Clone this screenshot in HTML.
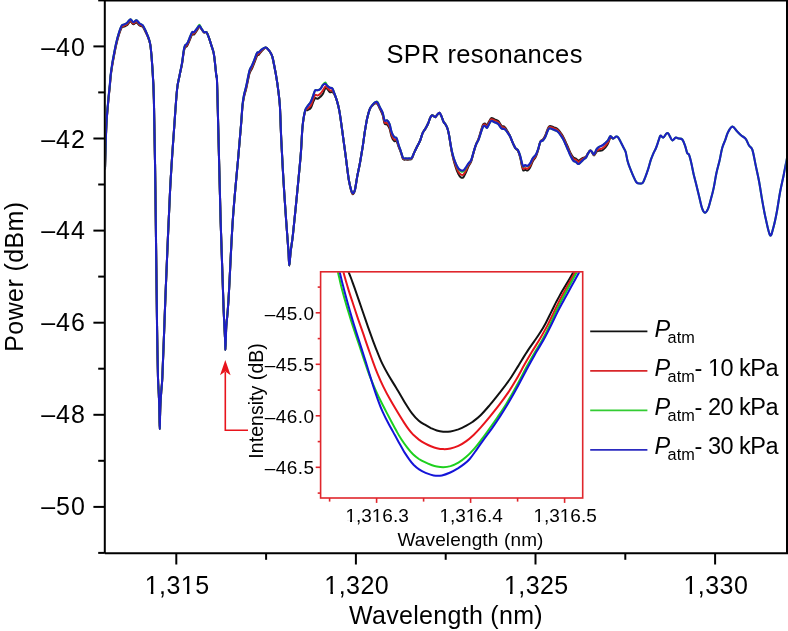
<!DOCTYPE html>
<html><head><meta charset="utf-8"><style>html,body{margin:0;padding:0;background:#fff;width:788px;height:631px;overflow:hidden}</style></head>
<body><svg width="788" height="631" viewBox="0 0 788 631" style="display:block;will-change:transform;font-family:'Liberation Sans',sans-serif"><rect width="788" height="631" fill="#fff"/><defs><clipPath id="cm"><rect x="105.8" y="1.5" width="680" height="551"/></clipPath><clipPath id="ci"><rect x="321.3" y="272.3" width="260.8" height="225.2"/></clipPath></defs><g clip-path="url(#cm)" fill="none" stroke-width="2" stroke-linejoin="round" stroke-linecap="round"><path stroke="#1a1a1a" d="M105.0,169.0C105.2,162.0 105.8,138.4 106.3,127.2C106.8,115.9 107.7,108.3 108.3,101.5C108.9,94.8 109.3,91.4 109.8,86.6C110.3,81.9 110.3,78.4 111.1,73.0C111.8,67.6 113.2,59.8 114.3,54.2C115.3,48.7 116.2,44.4 117.4,40.0C118.6,35.6 120.3,30.3 121.4,28.1C122.5,25.9 122.9,27.1 123.8,26.7C124.7,26.2 125.8,26.0 126.9,25.2C128.0,24.3 129.3,21.6 130.4,21.5C131.5,21.3 132.3,24.2 133.3,24.3C134.3,24.5 135.4,22.2 136.4,22.4C137.4,22.6 138.5,24.7 139.6,25.5C140.7,26.3 141.7,25.7 142.8,26.9C143.9,28.1 144.9,30.5 146.0,32.7C147.1,34.9 148.3,37.6 149.1,40.1C149.9,42.6 150.2,43.3 150.7,47.7C151.2,52.1 151.8,57.9 152.3,66.6C152.8,75.3 153.4,79.4 153.9,100.0C154.4,120.6 155.0,158.3 155.4,190.0C155.8,221.7 156.3,266.7 156.6,290.0C156.9,313.3 156.9,315.3 157.1,330.0C157.3,344.7 157.7,367.7 158.0,378.0C158.3,388.3 158.5,387.5 158.7,392.0C158.9,396.5 159.1,400.7 159.2,405.0C159.3,409.3 159.4,414.0 159.5,418.0C159.6,422.0 159.7,429.0 159.8,429.0C159.9,429.0 159.9,422.0 160.0,418.0C160.1,414.0 160.2,409.3 160.4,405.0C160.6,400.7 160.9,396.5 161.2,392.0C161.5,387.5 161.8,388.3 162.3,378.0C162.8,367.7 163.6,344.7 164.2,330.0C164.8,315.3 164.7,313.3 165.7,290.0C166.7,266.7 168.7,216.7 170.1,190.0C171.5,163.3 172.8,146.7 174.0,130.0C175.2,113.3 176.1,99.0 177.0,90.0C177.9,81.0 178.7,80.2 179.5,75.9C180.3,71.6 181.3,68.1 182.0,64.2C182.7,60.3 183.2,55.2 183.7,52.4C184.2,49.7 184.4,48.7 185.0,47.6C185.6,46.5 186.3,47.1 187.1,45.9C187.9,44.7 188.8,42.3 189.6,40.4C190.4,38.5 191.4,35.5 192.2,34.5C192.9,33.5 193.4,35.0 194.1,34.4C194.8,33.8 195.7,32.3 196.6,31.0C197.5,29.8 198.6,27.2 199.4,26.9C200.2,26.6 200.9,28.5 201.7,29.4C202.5,30.3 203.2,31.9 204.0,32.4C204.8,32.9 205.7,31.4 206.5,32.2C207.3,33.0 207.9,35.1 208.7,37.2C209.5,39.3 210.4,42.2 211.2,44.9C212.0,47.5 213.1,50.0 213.7,53.1C214.3,56.2 214.6,59.4 215.0,63.2C215.4,67.0 215.9,71.4 216.3,75.9C216.7,80.4 216.6,66.0 217.3,90.0C218.0,114.0 219.6,185.0 220.6,220.0C221.6,255.0 222.7,282.3 223.3,300.0C223.9,317.7 224.1,319.3 224.4,326.0C224.7,332.7 224.9,336.0 225.1,340.0C225.3,344.0 225.3,350.0 225.4,350.0C225.5,350.0 225.7,344.0 225.8,340.0C226.0,336.0 225.9,332.7 226.3,326.0C226.8,319.3 227.4,317.7 228.5,300.0C229.6,282.3 231.2,243.3 232.8,220.0C234.4,196.7 236.6,175.8 238.0,160.0C239.4,144.2 240.2,134.5 241.0,125.5C241.8,116.5 242.0,111.0 242.5,106.2C243.0,101.5 243.4,100.0 244.0,97.0C244.6,94.0 245.4,92.1 246.3,88.2C247.2,84.3 248.6,76.8 249.5,73.5C250.4,70.2 251.2,70.4 252.0,68.5C252.8,66.6 253.8,64.3 254.6,62.2C255.4,60.1 256.4,57.0 257.1,55.8C257.8,54.5 258.3,55.4 259.0,54.6C259.7,53.8 260.4,52.4 261.5,51.2C262.6,50.1 264.4,48.2 265.3,47.8C266.2,47.3 266.4,47.8 267.2,48.4C267.9,49.0 268.9,50.1 269.8,51.5C270.7,52.9 271.6,54.3 272.3,56.6C273.0,58.9 273.6,62.3 274.2,65.5C274.8,68.7 275.5,71.8 276.1,75.6C276.7,79.4 277.4,83.2 278.0,88.3C278.6,93.4 279.3,97.3 279.9,106.0C280.4,114.7 280.7,127.9 281.3,140.4C281.9,152.9 282.7,167.4 283.5,180.9C284.3,194.4 285.4,209.5 286.2,221.3C287.0,233.2 288.0,244.6 288.5,252.0C289.0,259.4 288.9,265.5 289.3,265.5C289.7,265.5 290.0,257.1 290.6,252.0C291.2,246.9 291.8,244.4 292.9,234.8C294.0,225.2 295.7,207.8 297.0,194.3C298.3,180.8 299.9,165.2 300.8,154.0C301.7,142.9 301.8,134.5 302.5,127.4C303.2,120.3 304.2,114.4 305.1,111.5C306.0,108.6 306.7,110.7 307.6,110.1C308.6,109.5 309.9,109.3 310.8,107.9C311.8,106.5 312.6,103.4 313.3,101.7C314.0,100.1 314.5,98.6 315.2,98.1C315.9,97.6 316.8,98.9 317.7,98.7C318.6,98.5 319.4,97.6 320.3,96.8C321.2,96.0 322.0,95.5 322.8,94.1C323.6,92.7 324.6,89.2 325.3,88.3C326.0,87.4 326.4,88.1 327.2,88.8C327.9,89.4 328.9,91.7 329.8,92.2C330.7,92.7 331.6,91.7 332.3,92.0C333.0,92.3 333.4,92.6 334.2,94.0C334.9,95.4 335.9,97.6 336.8,100.4C337.7,103.2 338.6,106.8 339.3,110.6C340.0,114.4 340.6,118.8 341.2,123.2C341.8,127.6 342.6,133.3 343.1,137.2C343.6,141.1 343.8,142.2 344.4,146.6C345.0,150.9 345.9,157.8 346.6,163.3C347.3,168.9 348.1,175.4 348.8,179.9C349.6,184.4 350.5,188.1 351.1,190.5C351.8,192.9 352.1,194.2 352.7,194.2C353.3,194.2 354.1,193.2 354.9,190.2C355.6,187.3 356.4,181.1 357.2,176.6C358.0,172.1 359.0,168.3 359.9,163.3C360.8,158.3 361.8,152.1 362.7,146.6C363.6,141.1 364.2,135.2 365.0,130.5C365.8,125.8 366.4,121.7 367.2,118.2C368.0,114.7 368.8,111.5 369.7,109.3C370.6,107.1 371.7,106.3 372.7,105.3C373.7,104.3 374.9,103.6 375.7,103.4C376.5,103.2 376.9,103.2 377.6,104.2C378.3,105.2 379.2,107.4 380.1,109.2C381.0,111.0 381.9,112.7 382.7,115.1C383.4,117.6 383.9,122.1 384.6,123.6C385.3,125.2 386.3,123.7 387.1,124.6C387.9,125.4 388.9,126.7 389.6,128.7C390.3,130.7 390.8,134.3 391.5,136.3C392.2,138.3 393.2,140.0 394.1,140.9C395.0,141.7 395.9,140.4 396.6,141.3C397.3,142.3 397.8,144.5 398.5,146.4C399.2,148.4 400.4,151.1 401.1,153.2C401.9,155.3 402.3,157.9 403.0,159.0C403.7,160.1 404.4,159.5 405.5,159.6C406.6,159.7 408.2,159.8 409.3,159.6C410.4,159.4 411.0,159.9 411.8,158.7C412.6,157.4 413.4,154.2 414.4,152.1C415.3,150.0 416.6,147.7 417.5,145.8C418.4,143.9 419.2,142.8 420.1,140.7C421.0,138.6 421.7,135.2 422.6,133.1C423.6,131.0 424.9,129.7 425.8,128.0C426.8,126.3 427.6,124.7 428.3,123.0C429.0,121.3 429.6,119.2 430.2,117.9C430.8,116.6 431.2,115.4 432.1,115.3C433.0,115.2 434.5,117.3 435.3,117.2C436.1,117.1 436.5,115.4 437.2,114.7C437.9,114.0 438.8,112.5 439.5,112.8C440.2,113.1 440.9,115.1 441.6,116.6C442.3,118.1 442.9,120.4 443.5,121.7C444.1,123.0 444.8,123.2 445.4,124.2C446.0,125.2 446.7,126.3 447.3,128.0C447.9,129.7 448.3,131.4 448.9,134.5C449.5,137.6 450.2,143.0 450.8,146.7C451.4,150.3 452.0,153.3 452.7,156.4C453.4,159.6 454.2,162.7 455.2,165.6C456.1,168.5 457.4,172.1 458.4,174.1C459.3,176.0 460.1,176.8 460.9,177.4C461.7,177.9 462.5,178.2 463.4,177.3C464.2,176.5 465.1,174.2 466.0,172.3C466.9,170.5 467.6,167.9 468.5,166.2C469.4,164.4 470.2,163.9 471.1,161.6C472.0,159.4 472.8,155.5 473.6,152.6C474.4,149.7 475.2,146.7 476.1,144.4C477.0,142.0 477.9,140.7 478.7,138.3C479.5,135.9 480.5,132.3 481.2,130.0C481.9,127.7 482.5,125.6 483.1,124.5C483.7,123.4 484.4,123.4 485.0,123.5C485.6,123.6 486.3,125.6 486.9,125.3C487.5,125.1 488.1,123.2 488.8,122.0C489.5,120.8 490.4,118.6 491.3,118.1C492.2,117.7 493.3,118.8 494.5,119.3C495.7,119.8 497.1,120.1 498.3,121.1C499.5,122.2 500.4,124.8 501.5,125.8C502.6,126.7 503.6,125.9 504.6,127.0C505.7,128.0 506.9,130.3 507.8,131.9C508.8,133.5 509.5,134.9 510.3,136.8C511.1,138.7 512.0,141.2 512.9,143.1C513.8,145.0 514.6,146.9 515.4,148.2C516.2,149.5 517.1,149.3 517.9,150.8C518.7,152.3 519.4,154.6 520.1,157.2C520.8,159.8 521.5,164.1 522.0,166.4C522.5,168.6 522.8,169.9 523.3,170.5C523.8,171.0 524.5,169.7 525.2,169.7C525.9,169.7 526.9,170.9 527.7,170.5C528.6,170.0 529.4,168.6 530.3,167.1C531.1,165.6 531.8,163.1 532.8,161.3C533.8,159.5 535.0,158.5 536.0,156.4C537.0,154.3 537.8,151.2 538.5,148.8C539.2,146.3 539.6,143.1 540.4,141.6C541.1,140.0 542.1,140.6 543.0,139.5C543.9,138.4 544.8,136.7 545.5,135.0C546.2,133.4 546.8,131.1 547.4,129.7C548.0,128.2 548.6,126.8 549.3,126.3C550.0,125.8 550.8,126.3 551.8,126.5C552.8,126.8 554.0,127.4 555.0,127.8C556.0,128.2 556.5,128.2 557.5,129.0C558.5,129.8 559.8,131.5 560.7,132.8C561.7,134.1 562.4,135.1 563.2,136.7C564.1,138.2 564.9,140.4 565.8,142.3C566.6,144.1 567.5,146.0 568.3,147.9C569.1,149.7 569.9,151.8 570.8,153.4C571.6,155.0 572.5,156.7 573.4,157.5C574.2,158.4 575.1,158.0 575.9,158.5C576.7,159.0 577.5,160.4 578.4,160.5C579.2,160.6 580.1,159.5 581.0,159.0C581.9,158.5 582.7,158.1 583.5,157.8C584.3,157.4 585.3,157.3 586.0,156.7C586.7,156.1 586.9,154.9 587.6,153.9C588.3,152.9 589.4,150.9 590.1,150.6C590.8,150.4 591.4,151.5 592.0,152.3C592.6,153.1 593.2,155.5 594.0,155.4C594.8,155.3 595.7,152.6 596.5,151.9C597.3,151.1 598.0,151.0 599.0,150.8C600.0,150.6 601.2,150.9 602.2,150.4C603.2,149.8 604.3,148.7 605.3,147.6C606.2,146.5 607.0,145.4 607.9,143.7C608.8,142.1 609.5,138.6 610.4,137.7C611.2,136.9 612.6,138.4 613.0,138.5"/><path stroke="#d81c20" d="M105.0,169.0C105.2,162.0 105.8,138.2 106.3,126.9C106.8,115.5 107.7,107.7 108.3,100.9C108.9,94.1 109.3,90.7 109.8,86.0C110.3,81.2 110.3,77.8 111.1,72.3C111.8,66.9 113.2,59.0 114.3,53.5C115.3,47.9 116.2,43.6 117.4,39.2C118.6,34.8 120.3,29.5 121.4,27.3C122.5,25.1 122.9,26.3 123.8,25.8C124.7,25.3 125.8,25.2 126.9,24.3C128.0,23.4 129.3,20.7 130.4,20.6C131.5,20.5 132.3,23.3 133.3,23.5C134.3,23.6 135.4,21.3 136.4,21.5C137.4,21.7 138.5,23.9 139.6,24.7C140.7,25.5 141.7,25.1 142.8,26.3C143.9,27.6 144.9,30.0 146.0,32.3C147.1,34.6 148.3,37.3 149.1,39.9C149.9,42.4 150.2,43.2 150.7,47.6C151.2,52.1 151.8,57.9 152.3,66.6C152.8,75.3 153.4,79.4 153.9,100.0C154.4,120.6 155.0,158.3 155.4,190.0C155.8,221.7 156.3,266.7 156.6,290.0C156.9,313.3 156.9,315.3 157.1,330.0C157.3,344.7 157.7,367.7 158.0,378.0C158.3,388.3 158.5,387.5 158.7,392.0C158.9,396.5 159.1,400.7 159.2,405.0C159.3,409.3 159.4,414.0 159.5,418.0C159.6,422.0 159.7,429.0 159.8,429.0C159.9,429.0 159.9,422.0 160.0,418.0C160.1,414.0 160.2,409.3 160.4,405.0C160.6,400.7 160.9,396.5 161.2,392.0C161.5,387.5 161.8,388.3 162.3,378.0C162.8,367.7 163.6,344.7 164.2,330.0C164.8,315.3 164.7,313.3 165.7,290.0C166.7,266.7 168.7,216.7 170.1,190.0C171.5,163.3 172.8,146.7 174.0,130.0C175.2,113.3 176.1,99.0 177.0,90.0C177.9,81.0 178.7,80.3 179.5,75.9C180.3,71.5 181.3,67.8 182.0,63.8C182.7,59.8 183.2,54.6 183.7,51.7C184.2,48.9 184.4,47.9 185.0,46.8C185.6,45.6 186.3,46.2 187.1,45.0C187.9,43.7 188.8,41.3 189.6,39.4C190.4,37.5 191.4,34.6 192.2,33.6C192.9,32.6 193.4,34.1 194.1,33.5C194.8,33.0 195.7,31.4 196.6,30.2C197.5,29.0 198.6,26.6 199.4,26.5C200.2,26.3 200.9,28.3 201.7,29.3C202.5,30.2 203.2,31.8 204.0,32.3C204.8,32.8 205.7,31.4 206.5,32.2C207.3,33.0 207.9,35.1 208.7,37.2C209.5,39.3 210.4,42.2 211.2,44.9C212.0,47.5 213.1,50.0 213.7,53.1C214.3,56.2 214.6,59.4 215.0,63.2C215.4,67.0 215.9,71.4 216.3,75.9C216.7,80.4 216.6,66.0 217.3,90.0C218.0,114.0 219.6,185.0 220.6,220.0C221.6,255.0 222.7,282.3 223.3,300.0C223.9,317.7 224.1,319.3 224.4,326.0C224.7,332.7 224.9,336.0 225.1,340.0C225.3,344.0 225.3,350.0 225.4,350.0C225.5,350.0 225.7,344.0 225.8,340.0C226.0,336.0 225.9,332.7 226.3,326.0C226.8,319.3 227.4,317.7 228.5,300.0C229.6,282.3 231.2,243.3 232.8,220.0C234.4,196.7 236.6,175.8 238.0,160.0C239.4,144.2 240.2,134.3 241.0,125.3C241.8,116.3 242.0,110.6 242.5,105.8C243.0,100.9 243.4,99.3 244.0,96.2C244.6,93.1 245.4,91.2 246.3,87.2C247.2,83.3 248.6,75.7 249.5,72.3C250.4,69.0 251.2,69.2 252.0,67.3C252.8,65.4 253.8,63.1 254.6,61.0C255.4,58.9 256.4,55.8 257.1,54.6C257.8,53.4 258.3,54.3 259.0,53.6C259.7,53.0 260.4,51.6 261.5,50.6C262.6,49.6 264.4,48.0 265.3,47.7C266.2,47.3 266.4,47.8 267.2,48.4C267.9,49.0 268.9,50.1 269.8,51.5C270.7,52.9 271.6,54.3 272.3,56.6C273.0,58.9 273.6,62.3 274.2,65.5C274.8,68.7 275.5,71.8 276.1,75.6C276.7,79.4 277.4,83.2 278.0,88.3C278.6,93.4 279.3,97.3 279.9,106.0C280.4,114.7 280.7,127.9 281.3,140.4C281.9,152.9 282.7,167.4 283.5,180.9C284.3,194.4 285.4,209.5 286.2,221.3C287.0,233.2 288.0,244.6 288.5,252.0C289.0,259.4 288.9,265.5 289.3,265.5C289.7,265.5 290.0,257.1 290.6,252.0C291.2,246.9 291.8,244.4 292.9,234.8C294.0,225.2 295.7,207.8 297.0,194.3C298.3,180.8 299.9,165.2 300.8,154.0C301.7,142.8 301.8,134.4 302.5,127.2C303.2,120.1 304.2,114.3 305.1,111.2C306.0,108.0 306.7,109.5 307.6,108.5C308.6,107.6 309.9,107.0 310.8,105.4C311.8,103.9 312.6,100.9 313.3,99.2C314.0,97.4 314.5,95.6 315.2,95.0C315.9,94.3 316.8,95.6 317.7,95.4C318.6,95.1 319.4,94.5 320.3,93.7C321.2,92.9 322.0,91.7 322.8,90.5C323.6,89.3 324.6,87.0 325.3,86.5C326.0,86.0 326.4,86.9 327.2,87.6C327.9,88.2 328.9,89.9 329.8,90.4C330.7,90.9 331.6,90.0 332.3,90.5C333.0,91.1 333.4,91.9 334.2,93.5C334.9,95.2 335.9,97.6 336.8,100.4C337.7,103.2 338.6,106.8 339.3,110.6C340.0,114.4 340.6,118.8 341.2,123.2C341.8,127.6 342.6,133.3 343.1,137.2C343.6,141.1 343.8,142.2 344.4,146.6C345.0,150.9 345.9,157.8 346.6,163.3C347.3,168.9 348.1,175.4 348.8,179.9C349.6,184.4 350.5,187.9 351.1,190.2C351.8,192.6 352.1,193.8 352.7,193.8C353.3,193.8 354.1,193.0 354.9,190.1C355.6,187.2 356.4,181.1 357.2,176.6C358.0,172.1 359.0,168.3 359.9,163.3C360.8,158.3 361.8,152.1 362.7,146.6C363.6,141.1 364.2,135.2 365.0,130.5C365.8,125.8 366.4,121.7 367.2,118.2C368.0,114.7 368.8,111.5 369.7,109.3C370.6,107.1 371.7,106.1 372.7,105.0C373.7,103.9 374.9,103.1 375.7,102.9C376.5,102.6 376.9,102.6 377.6,103.6C378.3,104.6 379.2,106.8 380.1,108.6C381.0,110.4 381.9,111.9 382.7,114.2C383.4,116.5 383.9,120.9 384.6,122.3C385.3,123.8 386.3,122.1 387.1,122.9C387.9,123.7 388.9,125.0 389.6,126.9C390.3,128.8 390.8,132.4 391.5,134.5C392.2,136.6 393.2,138.4 394.1,139.3C395.0,140.2 395.9,139.0 396.6,140.1C397.3,141.1 397.8,143.6 398.5,145.7C399.2,147.8 400.4,150.6 401.1,152.7C401.9,154.9 402.3,157.5 403.0,158.5C403.7,159.6 404.4,159.0 405.5,159.1C406.6,159.2 408.2,159.3 409.3,159.1C410.4,159.0 411.0,159.5 411.8,158.3C412.6,157.2 413.4,154.2 414.4,152.1C415.3,150.0 416.6,147.7 417.5,145.8C418.4,143.9 419.2,142.8 420.1,140.7C421.0,138.6 421.7,135.2 422.6,133.1C423.6,131.0 424.9,129.7 425.8,128.0C426.8,126.3 427.6,124.7 428.3,123.0C429.0,121.3 429.6,119.2 430.2,117.9C430.8,116.6 431.2,115.4 432.1,115.3C433.0,115.2 434.5,117.3 435.3,117.2C436.1,117.1 436.5,115.4 437.2,114.7C437.9,114.0 438.8,112.5 439.5,112.8C440.2,113.1 440.9,115.1 441.6,116.6C442.3,118.1 442.9,120.4 443.5,121.7C444.1,123.0 444.8,123.2 445.4,124.2C446.0,125.2 446.7,126.3 447.3,128.0C447.9,129.7 448.3,131.4 448.9,134.4C449.5,137.4 450.2,142.7 450.8,146.2C451.4,149.8 452.0,152.7 452.7,155.7C453.4,158.7 454.2,161.5 455.2,164.2C456.1,166.9 457.4,170.1 458.4,171.8C459.3,173.5 460.1,174.1 460.9,174.5C461.7,175.0 462.5,175.2 463.4,174.5C464.2,173.8 465.1,171.9 466.0,170.3C466.9,168.7 467.6,166.6 468.5,165.1C469.4,163.5 470.2,163.2 471.1,161.1C472.0,159.0 472.8,155.1 473.6,152.4C474.4,149.6 475.2,146.7 476.1,144.4C477.0,142.1 477.9,141.0 478.7,138.7C479.5,136.4 480.5,132.9 481.2,130.7C481.9,128.4 482.5,126.4 483.1,125.3C483.7,124.3 484.4,124.3 485.0,124.5C485.6,124.7 486.3,126.6 486.9,126.4C487.5,126.1 488.1,124.3 488.8,123.1C489.5,121.9 490.4,119.7 491.3,119.2C492.2,118.8 493.3,120.0 494.5,120.5C495.7,121.0 497.1,121.3 498.3,122.3C499.5,123.4 500.4,125.9 501.5,126.8C502.6,127.8 503.6,126.9 504.6,127.9C505.7,128.8 506.9,130.8 507.8,132.3C508.8,133.8 509.5,135.0 510.3,136.8C511.1,138.6 512.0,141.2 512.9,143.1C513.8,145.0 514.6,147.0 515.4,148.2C516.2,149.4 517.1,149.1 517.9,150.5C518.7,151.9 519.4,154.1 520.1,156.6C520.8,159.0 521.5,163.1 522.0,165.1C522.5,167.1 522.8,168.4 523.3,168.8C523.8,169.3 524.5,167.9 525.2,167.9C525.9,167.8 526.9,169.0 527.7,168.6C528.6,168.2 529.4,167.0 530.3,165.5C531.1,164.1 531.8,161.7 532.8,160.0C533.8,158.4 535.0,157.5 536.0,155.6C537.0,153.7 537.8,150.8 538.5,148.4C539.2,146.1 539.6,143.1 540.4,141.6C541.1,140.2 542.1,140.9 543.0,139.9C543.9,138.9 544.8,137.2 545.5,135.7C546.2,134.1 546.8,131.8 547.4,130.4C548.0,129.0 548.6,127.6 549.3,127.1C550.0,126.7 550.8,127.2 551.8,127.5C552.8,127.8 554.0,128.4 555.0,128.8C556.0,129.2 556.5,129.2 557.5,130.0C558.5,130.8 559.8,132.5 560.7,133.8C561.7,135.1 562.4,136.1 563.2,137.7C564.1,139.3 564.9,141.4 565.8,143.3C566.6,145.2 567.5,147.1 568.3,149.0C569.1,150.8 569.9,152.9 570.8,154.6C571.6,156.2 572.5,157.9 573.4,158.8C574.2,159.7 575.1,159.4 575.9,159.9C576.7,160.4 577.5,161.9 578.4,161.9C579.2,161.9 580.1,160.8 581.0,160.2C581.9,159.6 582.7,159.0 583.5,158.4C584.3,157.9 585.3,157.7 586.0,157.0C586.7,156.3 586.9,155.2 587.6,154.1C588.3,153.0 589.4,151.0 590.1,150.6C590.8,150.3 591.4,151.4 592.0,152.1C592.6,152.8 593.2,155.2 594.0,155.0C594.8,154.8 595.7,151.8 596.5,150.8C597.3,149.9 598.0,149.6 599.0,149.2C600.0,148.8 601.2,149.0 602.2,148.4C603.2,147.9 604.3,146.7 605.3,145.7C606.2,144.7 607.0,143.8 607.9,142.4C608.8,140.9 609.5,137.7 610.4,137.0C611.2,136.4 612.6,138.3 613.0,138.5"/><path stroke="#22cc22" d="M105.0,169.0C105.2,161.9 105.8,138.0 106.3,126.5C106.8,115.0 107.7,106.9 108.3,100.0C108.9,93.1 109.3,89.8 109.8,85.0C110.3,80.2 110.3,76.8 111.1,71.3C111.8,65.8 113.2,57.8 114.3,52.3C115.3,46.8 116.2,42.4 117.4,38.0C118.6,33.6 120.3,28.3 121.4,26.1C122.5,23.9 122.9,25.1 123.8,24.6C124.7,24.1 125.8,23.9 126.9,23.0C128.0,22.1 129.3,19.4 130.4,19.3C131.5,19.2 132.3,22.0 133.3,22.2C134.3,22.4 135.4,20.1 136.4,20.3C137.4,20.5 138.5,22.6 139.6,23.5C140.7,24.4 141.7,24.0 142.8,25.4C143.9,26.8 144.9,29.3 146.0,31.7C147.1,34.1 148.3,37.0 149.1,39.6C149.9,42.2 150.2,43.0 150.7,47.5C151.2,52.0 151.8,57.8 152.3,66.6C152.8,75.3 153.4,79.4 153.9,100.0C154.4,120.6 155.0,158.3 155.4,190.0C155.8,221.7 156.3,266.7 156.6,290.0C156.9,313.3 156.9,315.3 157.1,330.0C157.3,344.7 157.7,367.7 158.0,378.0C158.3,388.3 158.5,387.5 158.7,392.0C158.9,396.5 159.1,400.7 159.2,405.0C159.3,409.3 159.4,414.0 159.5,418.0C159.6,422.0 159.7,429.0 159.8,429.0C159.9,429.0 159.9,422.0 160.0,418.0C160.1,414.0 160.2,409.3 160.4,405.0C160.6,400.7 160.9,396.5 161.2,392.0C161.5,387.5 161.8,388.3 162.3,378.0C162.8,367.7 163.6,344.7 164.2,330.0C164.8,315.3 164.7,313.3 165.7,290.0C166.7,266.7 168.7,216.7 170.1,190.0C171.5,163.3 172.8,146.7 174.0,130.0C175.2,113.3 176.1,99.0 177.0,90.0C177.9,81.0 178.7,80.4 179.5,75.9C180.3,71.4 181.3,67.4 182.0,63.2C182.7,59.0 183.2,53.6 183.7,50.6C184.2,47.6 184.4,46.7 185.0,45.5C185.6,44.3 186.3,44.9 187.1,43.6C187.9,42.3 188.8,39.8 189.6,37.9C190.4,36.0 191.4,33.2 192.2,32.2C192.9,31.3 193.4,32.7 194.1,32.2C194.8,31.7 195.7,30.2 196.6,29.0C197.5,27.8 198.6,24.8 199.4,24.8C200.2,24.8 200.9,27.8 201.7,29.0C202.5,30.2 203.2,31.7 204.0,32.2C204.8,32.7 205.7,31.4 206.5,32.2C207.3,33.0 207.9,35.1 208.7,37.2C209.5,39.3 210.4,42.2 211.2,44.9C212.0,47.5 213.1,50.0 213.7,53.1C214.3,56.2 214.6,59.4 215.0,63.2C215.4,67.0 215.9,71.4 216.3,75.9C216.7,80.4 216.6,66.0 217.3,90.0C218.0,114.0 219.6,185.0 220.6,220.0C221.6,255.0 222.7,282.3 223.3,300.0C223.9,317.7 224.1,319.3 224.4,326.0C224.7,332.7 224.9,336.0 225.1,340.0C225.3,344.0 225.3,350.0 225.4,350.0C225.5,350.0 225.7,344.0 225.8,340.0C226.0,336.0 225.9,332.7 226.3,326.0C226.8,319.3 227.4,317.7 228.5,300.0C229.6,282.3 231.2,243.3 232.8,220.0C234.4,196.7 236.6,175.8 238.0,160.0C239.4,144.2 240.2,134.2 241.0,125.0C241.8,115.8 242.0,110.0 242.5,105.0C243.0,100.0 243.4,98.2 244.0,95.0C244.6,91.8 245.4,89.9 246.3,85.8C247.2,81.7 248.6,74.0 249.5,70.6C250.4,67.2 251.2,67.4 252.0,65.5C252.8,63.6 253.8,61.3 254.6,59.2C255.4,57.1 256.4,54.0 257.1,52.8C257.8,51.6 258.3,52.7 259.0,52.2C259.7,51.7 260.4,50.4 261.5,49.6C262.6,48.8 264.4,47.7 265.3,47.5C266.2,47.3 266.4,47.7 267.2,48.4C267.9,49.1 268.9,50.1 269.8,51.5C270.7,52.9 271.6,54.3 272.3,56.6C273.0,58.9 273.6,62.3 274.2,65.5C274.8,68.7 275.5,71.8 276.1,75.6C276.7,79.4 277.4,83.2 278.0,88.3C278.6,93.4 279.3,97.3 279.9,106.0C280.4,114.7 280.7,127.9 281.3,140.4C281.9,152.9 282.7,167.4 283.5,180.9C284.3,194.4 285.4,209.5 286.2,221.3C287.0,233.2 288.0,244.6 288.5,252.0C289.0,259.4 288.9,265.5 289.3,265.5C289.7,265.5 290.0,257.1 290.6,252.0C291.2,246.9 291.8,244.4 292.9,234.8C294.0,225.2 295.7,207.8 297.0,194.3C298.3,180.8 299.9,165.1 300.8,153.9C301.7,142.7 301.8,134.2 302.5,127.0C303.2,119.8 304.2,114.1 305.1,110.6C306.0,107.1 306.7,107.6 307.6,106.1C308.6,104.6 309.9,103.5 310.8,101.7C311.8,99.9 312.6,97.2 313.3,95.3C314.0,93.4 314.5,91.1 315.2,90.3C315.9,89.5 316.8,90.5 317.7,90.3C318.6,90.1 319.4,89.9 320.3,89.0C321.2,88.1 322.0,85.9 322.8,84.9C323.6,83.8 324.6,82.4 325.3,82.5C326.0,82.6 326.4,84.6 327.2,85.5C327.9,86.3 328.9,87.2 329.8,87.7C330.7,88.2 331.6,87.6 332.3,88.4C333.0,89.2 333.4,90.8 334.2,92.8C334.9,94.8 335.9,97.4 336.8,100.4C337.7,103.4 338.6,106.8 339.3,110.6C340.0,114.4 340.6,118.8 341.2,123.2C341.8,127.6 342.6,133.3 343.1,137.2C343.6,141.1 343.8,142.2 344.4,146.6C345.0,150.9 345.9,157.8 346.6,163.3C347.3,168.9 348.1,175.5 348.8,179.9C349.6,184.3 350.5,187.7 351.1,189.9C351.8,192.1 352.1,193.2 352.7,193.2C353.3,193.2 354.1,192.7 354.9,189.9C355.6,187.1 356.4,181.0 357.2,176.6C358.0,172.2 359.0,168.3 359.9,163.3C360.8,158.3 361.8,152.1 362.7,146.6C363.6,141.1 364.2,135.2 365.0,130.5C365.8,125.8 366.4,121.7 367.2,118.2C368.0,114.7 368.8,111.6 369.7,109.3C370.6,107.0 371.7,105.8 372.7,104.6C373.7,103.4 374.9,102.4 375.7,102.0C376.5,101.6 376.9,101.1 377.6,102.0C378.3,103.0 379.2,105.9 380.1,107.7C381.0,109.5 381.9,110.7 382.7,112.8C383.4,114.9 383.9,119.1 384.6,120.4C385.3,121.7 386.3,119.8 387.1,120.4C387.9,121.0 388.9,122.3 389.6,124.2C390.3,126.1 390.8,129.7 391.5,131.8C392.2,133.9 393.2,135.8 394.1,136.9C395.0,138.0 395.9,136.9 396.6,138.2C397.3,139.5 397.8,142.2 398.5,144.5C399.2,146.8 400.4,149.9 401.1,152.1C401.9,154.3 402.3,156.8 403.0,157.8C403.7,158.9 404.4,158.3 405.5,158.4C406.6,158.5 408.2,158.5 409.3,158.4C410.4,158.3 411.0,158.9 411.8,157.8C412.6,156.8 413.4,154.1 414.4,152.1C415.3,150.1 416.6,147.7 417.5,145.8C418.4,143.9 419.2,142.8 420.1,140.7C421.0,138.6 421.7,135.2 422.6,133.1C423.6,131.0 424.9,129.7 425.8,128.0C426.8,126.3 427.6,124.7 428.3,123.0C429.0,121.3 429.6,119.2 430.2,117.9C430.8,116.6 431.2,115.4 432.1,115.3C433.0,115.2 434.5,117.3 435.3,117.2C436.1,117.1 436.5,115.4 437.2,114.7C437.9,114.0 438.8,112.5 439.5,112.8C440.2,113.1 440.9,115.1 441.6,116.6C442.3,118.1 442.9,120.4 443.5,121.7C444.1,123.0 444.8,123.2 445.4,124.2C446.0,125.2 446.7,126.3 447.3,128.0C447.9,129.7 448.3,131.3 448.9,134.2C449.5,137.1 450.2,142.2 450.8,145.6C451.4,149.0 452.0,151.7 452.7,154.5C453.4,157.3 454.2,159.7 455.2,162.1C456.1,164.5 457.4,167.5 458.4,169.0C459.3,170.5 460.1,170.9 460.9,171.3C461.7,171.7 462.5,172.0 463.4,171.4C464.2,170.9 465.1,169.2 466.0,167.9C466.9,166.6 467.6,164.9 468.5,163.7C469.4,162.4 470.2,162.1 471.1,160.2C472.0,158.3 472.8,154.6 473.6,152.0C474.4,149.4 475.2,146.5 476.1,144.4C477.0,142.3 477.9,141.4 478.7,139.3C479.5,137.2 480.5,133.8 481.2,131.7C481.9,129.6 482.5,127.5 483.1,126.6C483.7,125.6 484.4,125.8 485.0,126.0C485.6,126.2 486.3,128.1 486.9,127.9C487.5,127.7 488.1,125.9 488.8,124.7C489.5,123.5 490.4,121.3 491.3,120.9C492.2,120.5 493.3,121.7 494.5,122.2C495.7,122.7 497.1,123.0 498.3,124.1C499.5,125.1 500.4,127.7 501.5,128.5C502.6,129.3 503.6,128.4 504.6,129.2C505.7,129.9 506.9,131.7 507.8,133.0C508.8,134.3 509.5,135.1 510.3,136.8C511.1,138.5 512.0,141.2 512.9,143.1C513.8,145.0 514.6,147.0 515.4,148.2C516.2,149.4 517.1,148.9 517.9,150.1C518.7,151.3 519.4,153.4 520.1,155.6C520.8,157.8 521.5,161.5 522.0,163.4C522.5,165.3 522.8,166.4 523.3,166.7C523.8,167.1 524.5,165.7 525.2,165.6C525.9,165.5 526.9,166.6 527.7,166.2C528.6,165.9 529.4,164.7 530.3,163.4C531.1,162.0 531.8,159.7 532.8,158.2C533.8,156.7 535.0,156.1 536.0,154.4C537.0,152.7 537.8,150.1 538.5,148.0C539.2,145.9 539.6,143.0 540.4,141.7C541.1,140.4 542.1,141.2 543.0,140.4C543.9,139.6 544.8,138.1 545.5,136.6C546.2,135.1 546.8,132.9 547.4,131.5C548.0,130.1 548.6,128.8 549.3,128.4C550.0,128.0 550.8,128.7 551.8,129.0C552.8,129.3 554.0,129.9 555.0,130.3C556.0,130.7 556.5,130.7 557.5,131.5C558.5,132.3 559.8,134.0 560.7,135.3C561.7,136.6 562.4,137.6 563.2,139.2C564.1,140.8 564.9,143.0 565.8,144.9C566.6,146.8 567.5,148.7 568.3,150.6C569.1,152.5 569.9,154.6 570.8,156.3C571.6,158.0 572.5,159.8 573.4,160.7C574.2,161.6 575.1,161.4 575.9,162.0C576.7,162.6 577.5,164.0 578.4,164.0C579.2,164.0 580.1,162.8 581.0,162.0C581.9,161.2 582.7,160.2 583.5,159.5C584.3,158.8 585.3,158.3 586.0,157.5C586.7,156.7 586.9,155.6 587.6,154.4C588.3,153.2 589.4,151.0 590.1,150.6C590.8,150.2 591.4,151.2 592.0,151.8C592.6,152.4 593.2,154.8 594.0,154.4C594.8,154.0 595.7,150.6 596.5,149.3C597.3,148.0 598.0,147.4 599.0,146.8C600.0,146.2 601.2,146.1 602.2,145.5C603.2,144.9 604.3,143.8 605.3,143.0C606.2,142.2 607.0,141.6 607.9,140.4C608.8,139.2 609.5,136.3 610.4,136.0C611.2,135.7 612.0,138.4 613.0,138.5C614.0,138.6 615.3,136.8 616.1,136.6C616.9,136.4 617.2,136.3 618.0,137.2C618.8,138.0 619.8,140.1 620.6,141.7C621.5,143.3 622.3,145.1 623.1,146.8C623.9,148.5 624.9,149.5 625.6,151.8C626.3,154.1 626.8,157.9 627.5,160.7C628.2,163.4 629.1,165.8 630.1,168.3C631.1,170.8 632.2,173.6 633.2,175.9C634.2,178.2 635.3,180.9 636.4,182.2C637.5,183.5 638.5,183.4 639.6,183.5C640.7,183.6 641.8,184.0 642.7,182.9C643.7,181.8 644.3,179.6 645.3,177.2C646.2,174.8 647.4,171.3 648.4,168.3C649.4,165.3 650.1,161.9 651.0,159.4C651.9,156.9 652.7,155.0 653.5,153.1C654.3,151.2 655.1,150.1 656.0,148.0C656.9,145.9 657.9,142.5 658.6,140.4C659.4,138.3 659.7,136.2 660.5,135.7C661.3,135.2 662.3,137.9 663.3,137.6C664.2,137.3 665.4,134.5 666.2,133.8C667.0,133.1 667.5,132.7 668.1,133.2C668.7,133.7 669.3,135.4 670.0,136.6C670.7,137.8 671.4,140.2 672.4,140.4C673.4,140.6 674.7,137.9 675.7,137.6C676.7,137.3 677.4,138.2 678.5,138.5C679.6,138.8 681.2,138.2 682.3,139.5C683.4,140.8 684.4,143.9 685.2,146.1C686.0,148.3 686.5,151.4 687.1,152.8C687.7,154.2 688.4,153.3 689.0,154.7C689.6,156.1 690.1,158.0 690.9,161.3C691.7,164.6 692.8,170.5 693.7,174.6C694.7,178.7 695.7,182.2 696.6,186.0C697.5,189.8 698.5,193.7 699.4,197.5C700.3,201.3 701.3,206.4 702.3,208.9C703.2,211.4 704.1,212.7 705.1,212.7C706.1,212.7 707.0,211.1 708.0,208.9C709.0,206.7 709.8,202.9 710.8,199.4C711.8,195.9 712.8,192.4 713.7,187.9C714.7,183.4 715.5,177.1 716.5,172.7C717.5,168.3 718.4,165.4 719.4,161.3C720.4,157.2 721.2,151.5 722.2,148.0C723.2,144.5 724.1,143.0 725.1,140.4C726.1,137.8 726.8,134.5 728.0,132.2C729.2,129.9 730.9,126.8 732.4,126.6C733.9,126.4 735.3,129.6 736.8,131.1C738.3,132.6 739.8,134.2 741.3,135.5C742.8,136.8 744.4,137.1 745.7,138.8C747.0,140.5 747.9,143.7 749.0,145.5C750.1,147.3 751.3,146.6 752.4,149.9C753.5,153.2 754.6,160.2 755.7,165.4C756.8,170.6 757.9,175.1 759.0,181.0C760.1,186.9 761.2,194.6 762.3,200.9C763.4,207.2 764.4,212.9 765.7,218.6C767.0,224.3 768.8,233.8 770.1,235.3C771.4,236.8 772.3,231.4 773.4,227.5C774.5,223.6 775.7,217.9 776.8,212.0C777.9,206.1 779.0,197.9 780.1,192.0C781.2,186.1 782.2,182.2 783.4,176.5C784.5,170.8 786.4,161.1 787.0,158.0"/><path stroke="#1e1ec4" stroke-width="2.1" d="M105.0,169.0C105.2,161.9 105.8,138.0 106.3,126.5C106.8,115.0 107.7,106.9 108.3,100.0C108.9,93.1 109.3,89.8 109.8,85.0C110.3,80.2 110.3,76.8 111.1,71.3C111.8,65.8 113.2,57.8 114.3,52.3C115.3,46.8 116.2,42.4 117.4,38.0C118.6,33.6 120.3,28.3 121.4,26.1C122.5,23.9 122.9,25.1 123.8,24.6C124.7,24.1 125.8,23.9 126.9,23.0C128.0,22.1 129.3,19.4 130.4,19.3C131.5,19.2 132.3,22.0 133.3,22.2C134.3,22.4 135.4,20.1 136.4,20.3C137.4,20.5 138.5,22.6 139.6,23.5C140.7,24.4 141.7,24.0 142.8,25.4C143.9,26.8 144.9,29.3 146.0,31.7C147.1,34.1 148.3,37.0 149.1,39.6C149.9,42.2 150.2,43.0 150.7,47.5C151.2,52.0 151.8,57.8 152.3,66.6C152.8,75.3 153.4,79.4 153.9,100.0C154.4,120.6 155.0,158.3 155.4,190.0C155.8,221.7 156.3,266.7 156.6,290.0C156.9,313.3 156.9,315.3 157.1,330.0C157.3,344.7 157.7,367.7 158.0,378.0C158.3,388.3 158.5,387.5 158.7,392.0C158.9,396.5 159.1,400.7 159.2,405.0C159.3,409.3 159.4,414.0 159.5,418.0C159.6,422.0 159.7,429.0 159.8,429.0C159.9,429.0 159.9,422.0 160.0,418.0C160.1,414.0 160.2,409.3 160.4,405.0C160.6,400.7 160.9,396.5 161.2,392.0C161.5,387.5 161.8,388.3 162.3,378.0C162.8,367.7 163.6,344.7 164.2,330.0C164.8,315.3 164.7,313.3 165.7,290.0C166.7,266.7 168.7,216.7 170.1,190.0C171.5,163.3 172.8,146.7 174.0,130.0C175.2,113.3 176.1,99.0 177.0,90.0C177.9,81.0 178.7,80.4 179.5,75.9C180.3,71.4 181.3,67.4 182.0,63.2C182.7,59.0 183.2,53.6 183.7,50.6C184.2,47.6 184.4,46.7 185.0,45.5C185.6,44.3 186.3,44.9 187.1,43.6C187.9,42.3 188.8,39.8 189.6,37.9C190.4,36.0 191.4,33.2 192.2,32.2C192.9,31.3 193.4,32.7 194.1,32.2C194.8,31.7 195.7,30.1 196.6,29.0C197.5,27.9 198.6,25.8 199.4,25.8C200.2,25.8 200.9,27.9 201.7,29.0C202.5,30.1 203.2,31.7 204.0,32.2C204.8,32.7 205.7,31.4 206.5,32.2C207.3,33.0 207.9,35.1 208.7,37.2C209.5,39.3 210.4,42.2 211.2,44.9C212.0,47.5 213.1,50.0 213.7,53.1C214.3,56.2 214.6,59.4 215.0,63.2C215.4,67.0 215.9,71.4 216.3,75.9C216.7,80.4 216.6,66.0 217.3,90.0C218.0,114.0 219.6,185.0 220.6,220.0C221.6,255.0 222.7,282.3 223.3,300.0C223.9,317.7 224.1,319.3 224.4,326.0C224.7,332.7 224.9,336.0 225.1,340.0C225.3,344.0 225.3,350.0 225.4,350.0C225.5,350.0 225.7,344.0 225.8,340.0C226.0,336.0 225.9,332.7 226.3,326.0C226.8,319.3 227.4,317.7 228.5,300.0C229.6,282.3 231.2,243.3 232.8,220.0C234.4,196.7 236.6,175.8 238.0,160.0C239.4,144.2 240.2,134.2 241.0,125.0C241.8,115.8 242.0,110.0 242.5,105.0C243.0,100.0 243.4,98.2 244.0,95.0C244.6,91.8 245.4,89.9 246.3,85.8C247.2,81.7 248.6,74.0 249.5,70.6C250.4,67.2 251.2,67.4 252.0,65.5C252.8,63.6 253.8,61.3 254.6,59.2C255.4,57.1 256.4,54.0 257.1,52.8C257.8,51.6 258.3,52.7 259.0,52.2C259.7,51.7 260.4,50.4 261.5,49.6C262.6,48.8 264.4,47.7 265.3,47.5C266.2,47.3 266.4,47.7 267.2,48.4C267.9,49.1 268.9,50.1 269.8,51.5C270.7,52.9 271.6,54.3 272.3,56.6C273.0,58.9 273.6,62.3 274.2,65.5C274.8,68.7 275.5,71.8 276.1,75.6C276.7,79.4 277.4,83.2 278.0,88.3C278.6,93.4 279.3,97.3 279.9,106.0C280.4,114.7 280.7,127.9 281.3,140.4C281.9,152.9 282.7,167.4 283.5,180.9C284.3,194.4 285.4,209.5 286.2,221.3C287.0,233.2 288.0,244.6 288.5,252.0C289.0,259.4 288.9,265.5 289.3,265.5C289.7,265.5 290.0,257.1 290.6,252.0C291.2,246.9 291.8,244.4 292.9,234.8C294.0,225.2 295.7,207.8 297.0,194.3C298.3,180.8 299.9,165.1 300.8,153.9C301.7,142.7 301.8,134.2 302.5,127.0C303.2,119.8 304.2,114.1 305.1,110.6C306.0,107.1 306.7,107.6 307.6,106.1C308.6,104.6 309.9,103.5 310.8,101.7C311.8,99.9 312.6,97.2 313.3,95.3C314.0,93.4 314.5,91.1 315.2,90.3C315.9,89.5 316.8,90.5 317.7,90.3C318.6,90.1 319.4,89.8 320.3,89.0C321.2,88.2 322.0,86.1 322.8,85.2C323.6,84.3 324.6,83.6 325.3,83.7C326.0,83.8 326.4,85.1 327.2,85.8C327.9,86.5 328.9,87.3 329.8,87.7C330.7,88.1 331.6,87.6 332.3,88.4C333.0,89.2 333.4,90.8 334.2,92.8C334.9,94.8 335.9,97.4 336.8,100.4C337.7,103.4 338.6,106.8 339.3,110.6C340.0,114.4 340.6,118.8 341.2,123.2C341.8,127.6 342.6,133.3 343.1,137.2C343.6,141.1 343.8,142.2 344.4,146.6C345.0,150.9 345.9,157.8 346.6,163.3C347.3,168.9 348.1,175.5 348.8,179.9C349.6,184.3 350.5,187.7 351.1,189.9C351.8,192.1 352.1,193.2 352.7,193.2C353.3,193.2 354.1,192.7 354.9,189.9C355.6,187.1 356.4,181.0 357.2,176.6C358.0,172.2 359.0,168.3 359.9,163.3C360.8,158.3 361.8,152.1 362.7,146.6C363.6,141.1 364.2,135.2 365.0,130.5C365.8,125.8 366.4,121.7 367.2,118.2C368.0,114.7 368.8,111.6 369.7,109.3C370.6,107.0 371.7,105.8 372.7,104.6C373.7,103.4 374.9,102.3 375.7,102.0C376.5,101.7 376.9,101.8 377.6,102.7C378.3,103.7 379.2,106.0 380.1,107.7C381.0,109.4 381.9,110.7 382.7,112.8C383.4,114.9 383.9,119.1 384.6,120.4C385.3,121.7 386.3,119.8 387.1,120.4C387.9,121.0 388.9,122.3 389.6,124.2C390.3,126.1 390.8,129.7 391.5,131.8C392.2,133.9 393.2,135.8 394.1,136.9C395.0,138.0 395.9,136.9 396.6,138.2C397.3,139.5 397.8,142.2 398.5,144.5C399.2,146.8 400.4,149.9 401.1,152.1C401.9,154.3 402.3,156.8 403.0,157.8C403.7,158.9 404.4,158.3 405.5,158.4C406.6,158.5 408.2,158.5 409.3,158.4C410.4,158.3 411.0,158.9 411.8,157.8C412.6,156.8 413.4,154.1 414.4,152.1C415.3,150.1 416.6,147.7 417.5,145.8C418.4,143.9 419.2,142.8 420.1,140.7C421.0,138.6 421.7,135.2 422.6,133.1C423.6,131.0 424.9,129.7 425.8,128.0C426.8,126.3 427.6,124.7 428.3,123.0C429.0,121.3 429.6,119.2 430.2,117.9C430.8,116.6 431.2,115.4 432.1,115.3C433.0,115.2 434.5,117.3 435.3,117.2C436.1,117.1 436.5,115.4 437.2,114.7C437.9,114.0 438.8,112.5 439.5,112.8C440.2,113.1 440.9,115.1 441.6,116.6C442.3,118.1 442.9,120.4 443.5,121.7C444.1,123.0 444.8,123.2 445.4,124.2C446.0,125.2 446.7,126.3 447.3,128.0C447.9,129.7 448.3,131.3 448.9,134.2C449.5,137.1 450.2,142.2 450.8,145.6C451.4,149.0 452.0,151.8 452.7,154.5C453.4,157.2 454.2,159.8 455.2,162.1C456.1,164.4 457.4,167.0 458.4,168.4C459.3,169.8 460.1,170.0 460.9,170.3C461.7,170.6 462.5,170.8 463.4,170.3C464.2,169.8 465.1,168.3 466.0,167.2C466.9,166.0 467.6,164.6 468.5,163.4C469.4,162.2 470.2,162.1 471.1,160.2C472.0,158.3 472.8,154.6 473.6,152.0C474.4,149.4 475.2,146.5 476.1,144.4C477.0,142.3 477.9,141.4 478.7,139.3C479.5,137.2 480.5,133.8 481.2,131.7C481.9,129.6 482.5,127.5 483.1,126.6C483.7,125.6 484.4,125.8 485.0,126.0C485.6,126.2 486.3,128.1 486.9,127.9C487.5,127.7 488.1,125.9 488.8,124.7C489.5,123.5 490.4,121.3 491.3,120.9C492.2,120.5 493.3,121.7 494.5,122.2C495.7,122.7 497.1,123.0 498.3,124.1C499.5,125.1 500.4,127.7 501.5,128.5C502.6,129.3 503.6,128.4 504.6,129.2C505.7,129.9 506.9,131.7 507.8,133.0C508.8,134.3 509.5,135.1 510.3,136.8C511.1,138.5 512.0,141.2 512.9,143.1C513.8,145.0 514.6,147.0 515.4,148.2C516.2,149.4 517.1,148.9 517.9,150.1C518.7,151.3 519.4,153.4 520.1,155.6C520.8,157.8 521.5,161.4 522.0,163.2C522.5,165.0 522.8,166.1 523.3,166.4C523.8,166.7 524.5,165.2 525.2,165.1C525.9,165.0 526.9,166.1 527.7,165.8C528.6,165.5 529.4,164.5 530.3,163.2C531.1,161.9 531.8,159.7 532.8,158.2C533.8,156.7 535.0,156.1 536.0,154.4C537.0,152.7 537.8,150.1 538.5,148.0C539.2,145.9 539.6,143.0 540.4,141.7C541.1,140.4 542.1,141.2 543.0,140.4C543.9,139.6 544.8,138.1 545.5,136.6C546.2,135.1 546.8,132.9 547.4,131.5C548.0,130.1 548.6,128.8 549.3,128.4C550.0,128.0 550.8,128.7 551.8,129.0C552.8,129.3 554.0,129.9 555.0,130.3C556.0,130.7 556.5,130.7 557.5,131.5C558.5,132.3 559.8,134.0 560.7,135.3C561.7,136.6 562.4,137.6 563.2,139.2C564.1,140.8 564.9,143.0 565.8,144.9C566.6,146.8 567.5,148.7 568.3,150.6C569.1,152.5 569.9,154.6 570.8,156.3C571.6,158.0 572.5,159.8 573.4,160.7C574.2,161.6 575.1,161.4 575.9,162.0C576.7,162.6 577.5,164.0 578.4,164.0C579.2,164.0 580.1,162.8 581.0,162.0C581.9,161.2 582.7,160.2 583.5,159.5C584.3,158.8 585.3,158.3 586.0,157.5C586.7,156.7 586.9,155.6 587.6,154.4C588.3,153.2 589.4,151.0 590.1,150.6C590.8,150.2 591.4,151.2 592.0,151.8C592.6,152.4 593.2,154.8 594.0,154.4C594.8,154.0 595.7,150.6 596.5,149.3C597.3,148.0 598.0,147.4 599.0,146.8C600.0,146.2 601.2,146.1 602.2,145.5C603.2,144.9 604.3,143.8 605.3,143.0C606.2,142.2 607.0,141.6 607.9,140.4C608.8,139.2 609.5,136.3 610.4,136.0C611.2,135.7 612.0,138.4 613.0,138.5C614.0,138.6 615.3,136.8 616.1,136.6C616.9,136.4 617.2,136.3 618.0,137.2C618.8,138.0 619.8,140.1 620.6,141.7C621.5,143.3 622.3,145.1 623.1,146.8C623.9,148.5 624.9,149.5 625.6,151.8C626.3,154.1 626.8,157.9 627.5,160.7C628.2,163.4 629.1,165.8 630.1,168.3C631.1,170.8 632.2,173.6 633.2,175.9C634.2,178.2 635.3,180.9 636.4,182.2C637.5,183.5 638.5,183.4 639.6,183.5C640.7,183.6 641.8,184.0 642.7,182.9C643.7,181.8 644.3,179.6 645.3,177.2C646.2,174.8 647.4,171.3 648.4,168.3C649.4,165.3 650.1,161.9 651.0,159.4C651.9,156.9 652.7,155.0 653.5,153.1C654.3,151.2 655.1,150.1 656.0,148.0C656.9,145.9 657.9,142.5 658.6,140.4C659.4,138.3 659.7,136.2 660.5,135.7C661.3,135.2 662.3,137.9 663.3,137.6C664.2,137.3 665.4,134.5 666.2,133.8C667.0,133.1 667.5,132.7 668.1,133.2C668.7,133.7 669.3,135.4 670.0,136.6C670.7,137.8 671.4,140.2 672.4,140.4C673.4,140.6 674.7,137.9 675.7,137.6C676.7,137.3 677.4,138.2 678.5,138.5C679.6,138.8 681.2,138.2 682.3,139.5C683.4,140.8 684.4,143.9 685.2,146.1C686.0,148.3 686.5,151.4 687.1,152.8C687.7,154.2 688.4,153.3 689.0,154.7C689.6,156.1 690.1,158.0 690.9,161.3C691.7,164.6 692.8,170.5 693.7,174.6C694.7,178.7 695.7,182.2 696.6,186.0C697.5,189.8 698.5,193.7 699.4,197.5C700.3,201.3 701.3,206.4 702.3,208.9C703.2,211.4 704.1,212.7 705.1,212.7C706.1,212.7 707.0,211.1 708.0,208.9C709.0,206.7 709.8,202.9 710.8,199.4C711.8,195.9 712.8,192.4 713.7,187.9C714.7,183.4 715.5,177.1 716.5,172.7C717.5,168.3 718.4,165.4 719.4,161.3C720.4,157.2 721.2,151.5 722.2,148.0C723.2,144.5 724.1,143.0 725.1,140.4C726.1,137.8 726.8,134.5 728.0,132.2C729.2,129.9 730.9,126.8 732.4,126.6C733.9,126.4 735.3,129.6 736.8,131.1C738.3,132.6 739.8,134.2 741.3,135.5C742.8,136.8 744.4,137.1 745.7,138.8C747.0,140.5 747.9,143.7 749.0,145.5C750.1,147.3 751.3,146.6 752.4,149.9C753.5,153.2 754.6,160.2 755.7,165.4C756.8,170.6 757.9,175.1 759.0,181.0C760.1,186.9 761.2,194.6 762.3,200.9C763.4,207.2 764.4,212.9 765.7,218.6C767.0,224.3 768.8,233.8 770.1,235.3C771.4,236.8 772.3,231.4 773.4,227.5C774.5,223.6 775.7,217.9 776.8,212.0C777.9,206.1 779.0,197.9 780.1,192.0C781.2,186.1 782.2,182.2 783.4,176.5C784.5,170.8 786.4,161.1 787.0,158.0"/></g><g stroke="#000" stroke-width="2" fill="none"><path d="M104.8,553.2V0.6H787V553.2H104.8"/><path d="M98.2,0.4H104.8"/><path d="M93.4,46.4H104.8"/><path d="M98.2,92.4H104.8"/><path d="M93.4,138.5H104.8"/><path d="M98.2,184.5H104.8"/><path d="M93.4,230.6H104.8"/><path d="M98.2,276.6H104.8"/><path d="M93.4,322.7H104.8"/><path d="M98.2,368.7H104.8"/><path d="M93.4,414.8H104.8"/><path d="M98.2,460.8H104.8"/><path d="M93.4,506.9H104.8"/><path d="M98.2,552.9H104.8"/><path d="M176.3,553.2V564.5"/><path d="M355.9,553.2V564.5"/><path d="M535.5,553.2V564.5"/><path d="M715.1,553.2V564.5"/><path d="M266.1,553.2V559.8"/><path d="M445.7,553.2V559.8"/><path d="M625.3,553.2V559.8"/></g><g font-size="25" text-anchor="end" fill="#000" letter-spacing="1"><text x="85.9" y="55.5">–40</text><text x="85.9" y="147.5">–42</text><text x="85.9" y="239.4">–44</text><text x="85.9" y="331.4">–46</text><text x="85.9" y="423.3">–48</text><text x="85.9" y="515.3">–50</text></g><g font-size="25" text-anchor="middle" fill="#000" letter-spacing="0.45"><text x="177.1" y="593.8">1,315</text><text x="356.7" y="593.8">1,320</text><text x="536.3" y="593.8">1,325</text><text x="715.9" y="593.8">1,330</text></g><text x="446" y="624" font-size="25" text-anchor="middle" letter-spacing="0.3">Wavelength (nm)</text><text transform="translate(22.6,276.6) rotate(-90)" font-size="25" text-anchor="middle" letter-spacing="0.4">Power (dBm)</text><text x="386.5" y="62.5" font-size="25.5" letter-spacing="0.35">SPR resonances</text><path d="M248,430.3H225.3V372" fill="none" stroke="#e8141c" stroke-width="1.6"/><path d="M225.3,360 L230.6,375.2 L225.3,371.6 L220.0,375.2 Z" fill="#e8141c"/><rect x="320.6" y="271.8" width="262.1" height="226.2" fill="#fff"/><g clip-path="url(#ci)" fill="none" stroke-width="2" stroke-linejoin="round"><path stroke="#111" d="M348.4,271.5C348.8,272.5 349.8,274.9 350.8,277.5C351.8,280.1 352.8,283.0 354.3,287.1C355.7,291.2 357.5,296.4 359.4,301.8C361.2,307.2 363.6,314.2 365.5,319.6C367.3,325.0 368.9,329.5 370.6,334.1C372.2,338.7 373.6,342.5 375.4,347.1C377.2,351.6 379.1,356.7 381.2,361.3C383.3,365.9 385.7,370.2 388.1,374.5C390.6,378.9 393.3,383.0 396.0,387.5C398.7,391.9 401.6,397.0 404.2,401.4C406.9,405.8 409.7,410.4 412.2,413.6C414.6,416.8 416.7,418.9 418.8,420.7C420.9,422.6 422.8,423.5 424.9,424.7C426.9,425.9 428.9,427.1 430.9,428.1C432.9,429.0 434.8,429.9 436.8,430.5C438.8,431.1 440.9,431.5 443.2,431.7C445.5,431.9 448.0,431.8 450.5,431.4C453.1,431.1 455.9,430.3 458.4,429.4C460.9,428.4 463.4,427.2 465.8,425.9C468.2,424.6 470.3,423.5 472.8,421.7C475.2,419.9 477.8,418.0 480.6,415.2C483.5,412.4 486.8,408.5 490.1,404.7C493.3,400.9 496.7,396.6 500.0,392.4C503.3,388.2 506.6,383.9 509.8,379.3C512.9,374.8 515.9,369.6 518.8,365.1C521.6,360.5 524.2,356.0 526.8,352.1C529.3,348.1 531.9,344.7 534.2,341.4C536.5,338.1 538.6,335.2 540.5,332.1C542.4,329.1 544.0,326.2 545.8,322.9C547.6,319.5 549.4,315.7 551.2,312.1C553.0,308.5 554.8,304.7 556.5,301.4C558.3,298.1 559.8,295.4 561.5,292.3C563.3,289.3 565.0,286.6 567.0,283.1C569.1,279.7 572.7,273.4 573.8,271.5"/><path stroke="#e8141c" d="M343.3,271.5C343.6,272.5 344.2,274.9 344.9,277.5C345.6,280.1 346.5,283.0 347.7,287.1C348.9,291.2 350.6,296.4 352.4,301.8C354.1,307.2 356.5,314.2 358.3,319.6C360.2,325.0 361.8,329.5 363.4,334.1C364.9,338.7 366.2,342.5 367.8,347.1C369.4,351.6 371.1,356.8 372.8,361.3C374.4,365.8 375.9,369.9 377.7,374.1C379.4,378.3 381.2,382.3 383.3,386.6C385.4,390.9 387.9,395.6 390.3,399.8C392.7,404.1 395.3,408.3 397.5,412.1C399.8,415.9 402.0,419.5 403.9,422.4C405.8,425.4 407.4,427.7 409.1,429.9C410.7,432.0 412.0,433.5 413.6,435.1C415.3,436.7 417.1,438.2 418.9,439.6C420.8,441.0 422.9,442.3 424.9,443.4C426.9,444.5 428.9,445.5 430.9,446.3C432.9,447.1 434.8,447.8 436.8,448.2C438.8,448.7 440.9,449.1 443.2,449.1C445.5,449.2 448.0,449.0 450.5,448.5C453.1,448.0 455.8,447.1 458.4,445.9C461.0,444.7 463.8,442.9 466.3,441.1C468.8,439.3 471.1,437.2 473.6,434.9C476.0,432.6 478.1,430.3 480.8,427.3C483.5,424.3 486.6,420.7 489.7,416.9C492.8,413.1 496.3,408.8 499.4,404.7C502.5,400.6 505.4,396.6 508.3,392.4C511.1,388.2 513.7,383.9 516.4,379.3C519.1,374.8 521.7,369.6 524.2,365.1C526.8,360.5 529.2,356.4 531.8,352.1C534.3,347.8 537.0,343.8 539.7,339.3C542.3,334.8 545.2,329.6 547.6,325.1C550.0,320.5 551.8,316.4 553.9,312.1C556.0,307.8 557.8,304.0 560.1,299.5C562.4,295.0 565.3,290.0 567.8,285.3C570.3,280.7 574.1,273.8 575.4,271.5"/><path stroke="#1ed01e" d="M337.8,271.5C338.0,272.5 338.6,274.9 339.2,277.5C339.8,280.1 340.4,283.0 341.4,287.1C342.5,291.2 343.8,296.4 345.4,301.8C346.9,307.2 349.1,314.2 350.8,319.6C352.4,325.0 354.0,329.5 355.5,334.1C357.0,338.7 358.4,342.5 359.9,347.1C361.4,351.6 363.0,356.8 364.6,361.3C366.1,365.8 367.5,369.9 369.0,374.1C370.6,378.3 372.2,382.3 374.1,386.6C375.9,390.9 378.1,395.6 380.1,399.8C382.2,404.1 384.4,408.3 386.4,412.1C388.4,415.9 390.3,419.5 392.0,422.8C393.7,426.0 395.2,428.8 396.8,431.6C398.3,434.4 399.8,436.9 401.5,439.5C403.2,442.1 405.2,444.9 407.1,447.4C409.0,449.9 411.0,452.4 413.0,454.3C415.0,456.3 417.0,457.7 418.9,459.0C420.9,460.3 422.9,461.3 424.9,462.2C426.9,463.2 428.9,464.1 430.9,464.8C432.9,465.5 434.8,466.2 436.8,466.5C438.8,466.9 440.9,467.2 443.2,467.2C445.5,467.1 448.0,466.8 450.5,466.1C453.1,465.3 455.8,464.1 458.4,462.6C461.0,461.1 463.7,459.1 466.3,456.8C468.9,454.5 471.5,451.8 474.1,448.8C476.8,445.8 479.4,442.3 482.0,438.9C484.7,435.4 487.3,431.7 489.9,428.0C492.6,424.3 495.3,420.5 498.0,416.5C500.7,412.5 503.1,409.0 506.1,404.2C509.0,399.5 512.1,394.0 515.4,388.0C518.8,382.0 522.8,374.0 526.0,368.0C529.2,362.0 532.1,357.0 534.9,352.2C537.7,347.5 540.1,344.0 542.5,339.5C545.0,335.0 547.6,329.8 549.8,325.2C551.9,320.7 553.7,316.5 555.7,312.2C557.8,307.9 559.7,304.0 562.0,299.5C564.3,295.0 567.1,290.0 569.6,285.3C572.1,280.7 575.8,273.8 577.1,271.5"/><path stroke="#1414d8" d="M339.5,271.5C339.8,272.5 340.4,274.9 341.0,277.5C341.6,280.1 342.3,283.0 343.4,287.1C344.4,291.2 345.8,296.4 347.3,301.8C348.8,307.2 350.8,314.2 352.4,319.6C354.0,325.0 355.5,329.5 356.9,334.1C358.4,338.7 359.6,342.5 361.1,347.1C362.5,351.6 364.1,356.8 365.6,361.3C367.0,365.8 368.2,369.9 369.5,374.1C370.8,378.3 372.0,382.3 373.4,386.6C374.8,390.9 376.3,395.6 377.9,399.8C379.4,404.1 381.0,408.1 382.8,412.1C384.6,416.1 386.6,420.0 388.6,423.8C390.6,427.5 392.8,431.4 394.7,434.8C396.6,438.2 398.2,441.3 399.9,444.3C401.5,447.2 403.0,449.9 404.5,452.4C406.1,454.9 407.6,457.2 409.2,459.3C410.7,461.4 412.2,463.3 413.8,465.0C415.5,466.7 417.1,468.1 419.1,469.4C421.0,470.7 423.2,471.8 425.6,472.8C428.1,473.8 430.9,475.0 433.6,475.4C436.3,475.8 439.1,475.9 441.9,475.4C444.7,474.9 447.6,473.7 450.3,472.5C452.9,471.4 455.6,469.8 457.9,468.4C460.2,466.9 462.3,465.5 464.3,463.9C466.3,462.4 467.9,461.1 469.7,459.0C471.5,457.0 473.0,454.8 475.1,451.8C477.2,448.8 479.8,444.9 482.6,441.1C485.3,437.2 488.7,432.9 491.6,428.9C494.4,424.8 497.2,420.7 499.9,416.6C502.6,412.5 504.9,408.9 507.8,404.1C510.6,399.3 513.7,393.9 517.0,387.8C520.3,381.8 524.3,373.8 527.5,367.9C530.7,361.9 533.6,356.9 536.3,352.1C539.1,347.3 541.4,343.8 543.9,339.3C546.4,334.8 549.0,329.6 551.2,325.1C553.5,320.5 555.4,316.4 557.5,312.1C559.7,307.8 561.8,304.0 564.2,299.5C566.6,295.0 569.5,290.0 572.0,285.3C574.6,280.7 578.3,273.8 579.6,271.5"/></g><g stroke="#e0262c" stroke-width="1.6" fill="none"><rect x="320.6" y="271.8" width="262.1" height="226.2"/><path d="M317.7,287.1H320.6"/><path d="M315.7,312.8H320.6"/><path d="M317.7,338.6H320.6"/><path d="M315.7,364.3H320.6"/><path d="M317.7,390.1H320.6"/><path d="M315.7,415.8H320.6"/><path d="M317.7,441.6H320.6"/><path d="M315.7,467.3H320.6"/><path d="M317.7,493.1H320.6"/><path d="M329.6,498.0V501.6"/><path d="M376.6,498.0V502.9"/><path d="M423.6,498.0V501.6"/><path d="M470.6,498.0V502.9"/><path d="M517.6,498.0V501.6"/><path d="M564.6,498.0V502.9"/></g><g font-size="19" text-anchor="end" letter-spacing="0.45"><text x="314.6" y="319.8">–45.0</text><text x="314.6" y="371.3">–45.5</text><text x="314.6" y="422.8">–46.0</text><text x="314.6" y="474.3">–46.5</text></g><g font-size="19" text-anchor="middle"><text x="377.1" y="522.4">1,316.3</text><text x="471.1" y="522.4">1,316.4</text><text x="565.1" y="522.4">1,316.5</text></g><text x="470.5" y="546.3" font-size="19" text-anchor="middle" letter-spacing="0.15">Wavelength (nm)</text><text transform="translate(262.8,400.9) rotate(-90)" font-size="19.5" text-anchor="middle" letter-spacing="0.05">Intensity (dB)</text><path d="M590.2,331.3H647.4" stroke="#111" stroke-width="1.7"/><text x="654.5" y="336.8" font-size="23.5" font-style="italic">P</text><text x="667.6" y="343.0" font-size="16.3">atm</text><path d="M590.2,370.8H647.4" stroke="#d8262a" stroke-width="1.7"/><text x="654.5" y="375.7" font-size="23.5" font-style="italic">P</text><text x="667.6" y="381.9" font-size="16.3">atm</text><text x="694.6" y="375.7" font-size="23.5" letter-spacing="-0.5">- 10 kPa</text><path d="M590.2,410.3H647.4" stroke="#33cc33" stroke-width="1.7"/><text x="654.5" y="414.6" font-size="23.5" font-style="italic">P</text><text x="667.6" y="420.8" font-size="16.3">atm</text><text x="694.6" y="414.6" font-size="23.5" letter-spacing="-0.5">- 20 kPa</text><path d="M590.2,449.8H647.4" stroke="#2b2bc0" stroke-width="1.7"/><text x="654.5" y="453.5" font-size="23.5" font-style="italic">P</text><text x="667.6" y="459.7" font-size="16.3">atm</text><text x="694.6" y="453.5" font-size="23.5" letter-spacing="-0.5">- 30 kPa</text><g><rect x="145.43" y="591.68" width="5.40" height="3.17" fill="#fff"/><rect x="153.34" y="591.68" width="4.90" height="3.17" fill="#fff"/><rect x="181.52" y="591.68" width="5.40" height="3.17" fill="#fff"/><rect x="189.43" y="591.68" width="4.90" height="3.17" fill="#fff"/><rect x="325.03" y="591.68" width="5.40" height="3.17" fill="#fff"/><rect x="332.94" y="591.68" width="4.90" height="3.17" fill="#fff"/><rect x="504.63" y="591.68" width="5.40" height="3.17" fill="#fff"/><rect x="512.54" y="591.68" width="4.90" height="3.17" fill="#fff"/><rect x="684.23" y="591.68" width="5.40" height="3.17" fill="#fff"/><rect x="692.14" y="591.68" width="4.90" height="3.17" fill="#fff"/><rect x="345.95" y="520.13" width="4.07" height="2.72" fill="#fff"/><rect x="352.00" y="520.13" width="3.69" height="2.72" fill="#fff"/><rect x="372.36" y="520.13" width="4.07" height="2.72" fill="#fff"/><rect x="378.41" y="520.13" width="3.69" height="2.72" fill="#fff"/><rect x="439.95" y="520.13" width="4.07" height="2.72" fill="#fff"/><rect x="446.00" y="520.13" width="3.69" height="2.72" fill="#fff"/><rect x="466.36" y="520.13" width="4.07" height="2.72" fill="#fff"/><rect x="472.41" y="520.13" width="3.69" height="2.72" fill="#fff"/><rect x="533.95" y="520.13" width="4.07" height="2.72" fill="#fff"/><rect x="540.00" y="520.13" width="3.69" height="2.72" fill="#fff"/><rect x="560.36" y="520.13" width="4.07" height="2.72" fill="#fff"/><rect x="566.41" y="520.13" width="3.69" height="2.72" fill="#fff"/><rect x="708.63" y="373.79" width="5.07" height="3.06" fill="#fff"/><rect x="716.08" y="373.79" width="4.60" height="3.06" fill="#fff"/></g></svg></body></html>
